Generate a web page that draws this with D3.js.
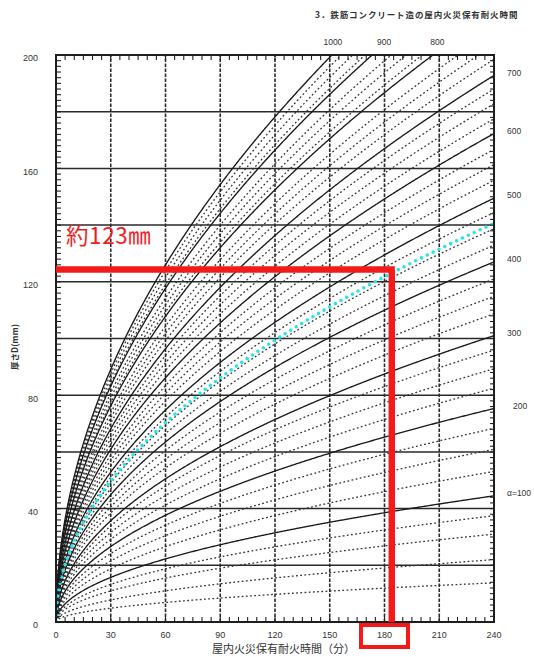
<!DOCTYPE html>
<html><head><meta charset="utf-8">
<script src="https://cdn.jsdelivr.net/npm/d3@7"></script>
<style>body{margin:0;background:#fff;} svg{display:block;}</style>
</head><body>
<svg id="c" width="534" height="657"></svg>
<script>
// ---- data ----
const xTicks = [0,30,60,90,120,150,180,210,240];
const yTicks = [0,40,80,120,160,200];
const solidAlpha = [100,200,300,400,500,600,700,800,900,1000];
const solidD240 = [44.5,75.3,101,127,149.5,172.3,192.8,215.6,235.4,252];
const dashedAlpha = [20,40,60,80,125,150,175,225,250,275,325,350,375,425,450,475,525,550,575,625,650,675,725,750,775,825,850,875,925,950,975];
const dashedD240 = [13.8,22,31,37.5,53.1,60.9,68.3,82.5,89.3,95.9,108.7,114.9,121,132.9,138.7,144.4,155.8,161.3,166.7,177.5,182.8,188,198.5,203.6,208.7,218.7,223.7,228.6,238.1,243,247.8];
const highlightD240 = 140.6;
const rightLabels = ["α=100","200","300","400","500","600","700"];
const topLabels = ["800","900","1000"];
const annotT = 184, annotD = 124.3;
const annotText = "約123㎜";
const boxedTick = 180;
const titleText = "3．鉄筋コンクリート造の屋内火災保有耐火時間";
const yTitle = "厚さD(mm)";
const xTitle = "屋内火災保有耐火時間（分）";

// ---- layout ----
const svg = d3.select("#c");
const x = d3.scaleLinear().domain([0,240]).range([56,494]);
const y = d3.scaleLinear().domain([0,200]).range([622,55]);
const numFont = "'Liberation Sans', Arial, sans-serif";
const jpFont = "'Noto Sans CJK JP', sans-serif";

svg.append("defs").append("clipPath").attr("id","plot")
  .append("rect").attr("x",x(0)).attr("y",y(200)).attr("width",x(240)-x(0)).attr("height",y(0)-y(200));

// grid
const grid = svg.append("g");
grid.selectAll("line.h").data(d3.range(20,200,20)).join("line")
  .attr("x1",x(0)).attr("x2",x(240)).attr("y1",d=>y(d)).attr("y2",d=>y(d))
  .attr("stroke","#2a2a2a").attr("stroke-width",1.5);
grid.selectAll("line.v").data(d3.range(30,240,30)).join("line")
  .attr("y1",y(0)).attr("y2",y(200)).attr("x1",d=>x(d)).attr("x2",d=>x(d))
  .attr("stroke","#2a2a2a").attr("stroke-width",1.6).attr("stroke-dasharray","3.5,1.5");

// curves
const tSamples = d3.range(0,240.01,0.5);
function curvePath(d240){
  const s = d3.scaleSqrt().domain([0,240]).range([0,d240]);
  return d3.line().x(t=>x(t)).y(t=>y(s(t)))(tSamples);
}
const cg = svg.append("g").attr("clip-path","url(#plot)");
cg.selectAll("path.dash").data(dashedD240).join("path")
  .attr("d",curvePath).attr("fill","none").attr("stroke","#333")
  .attr("stroke-width",1.3).attr("stroke-dasharray","1.8,2.4");
cg.selectAll("path.solid").data(solidD240).join("path")
  .attr("d",curvePath).attr("fill","none").attr("stroke","#1a1a1a")
  .attr("stroke-width",1.35);
cg.append("path").attr("d",curvePath(highlightD240)).attr("fill","none")
  .attr("stroke","#27e3ea").attr("stroke-width",3.6).attr("stroke-linecap","round")
  .attr("stroke-dasharray","0,6.5");

// frame
svg.append("rect").attr("x",x(0)).attr("y",y(200)).attr("width",x(240)-x(0)).attr("height",y(0)-y(200))
  .attr("fill","none").attr("stroke","#1e1e1e").attr("stroke-width",2);

// ticks
const tk = svg.append("g").attr("stroke","#222").attr("stroke-width",1.1);
d3.range(2,200,2).forEach(v=>{
  tk.append("line").attr("x1",x(0)).attr("x2",x(0)+5).attr("y1",y(v)).attr("y2",y(v));
  tk.append("line").attr("x1",x(240)).attr("x2",x(240)-4).attr("y1",y(v)).attr("y2",y(v));
});
d3.range(5,240,5).forEach(v=>{
  tk.append("line").attr("x1",x(v)).attr("x2",x(v)).attr("y1",y(200)).attr("y2",y(200)+5);
  tk.append("line").attr("x1",x(v)).attr("x2",x(v)).attr("y1",y(0)).attr("y2",y(0)-5);
});

// axis labels
svg.append("g").selectAll("text").data(yTicks).join("text")
  .attr("x",38).attr("y",d=>y(d)+4).attr("text-anchor","end").attr("dominant-baseline","middle")
  .attr("font-family",numFont).attr("font-size",9).attr("fill","#333").text(d=>d);
svg.append("g").selectAll("text").data(xTicks).join("text")
  .attr("x",d=>x(d)).attr("y",636).attr("text-anchor","middle").attr("dominant-baseline","middle")
  .attr("font-family",numFont).attr("font-size",9).attr("fill","#333").text(d=>d);

// alpha labels
svg.append("g").selectAll("text").data(rightLabels).join("text")
  .attr("x",(d,i)=> i===1 ? 513 : 507).attr("y",(d,i)=>y(solidD240[i])-2).attr("dominant-baseline","middle")
  .attr("font-family",numFont).attr("font-size",8.5).attr("fill","#333").text(d=>d);
const topOffsets = [4.5, 12, 1];
svg.append("g").selectAll("text").data(topLabels).join("text")
  .attr("x",(d,i)=>{const s=d3.scaleSqrt().domain([0,240]).range([0,solidD240[7+i]]); return x(s.invert(200))+topOffsets[i];})
  .attr("y",43).attr("text-anchor","middle").attr("dominant-baseline","middle")
  .attr("font-family",numFont).attr("font-size",8.5).attr("fill","#333").text(d=>d);

// titles
svg.append("text").attr("x",315).attr("y",18).attr("font-family",jpFont).attr("font-size",8.5)
  .attr("font-weight","bold").attr("fill","#333").attr("letter-spacing",0.9).text(titleText);
svg.append("text").attr("transform","translate(18,347) rotate(-90)").attr("text-anchor","middle")
  .attr("font-family",jpFont).attr("font-size",8.5).attr("font-weight","bold").attr("fill","#333").text(yTitle);
svg.append("text").attr("x",212).attr("y",653).attr("font-family",jpFont).attr("font-size",11)
  .attr("fill","#333").text(xTitle);

// red annotation
const red = "#f41a1a";
const ann = svg.append("g");
ann.append("line").attr("x1",x(0)).attr("x2",x(annotT)+3).attr("y1",y(annotD)).attr("y2",y(annotD))
  .attr("stroke",red).attr("stroke-width",6.5);
ann.append("line").attr("x1",x(annotT)).attr("x2",x(annotT)).attr("y1",y(annotD)).attr("y2",y(0))
  .attr("stroke",red).attr("stroke-width",6.5);
ann.append("rect").attr("x",x(boxedTick)-23.5).attr("y",625).attr("width",47).attr("height",22)
  .attr("fill","none").attr("stroke",red).attr("stroke-width",4);
ann.append("text").attr("x",66).attr("y",y(annotD)-26).attr("font-family",jpFont).attr("font-size",22.5)
  .attr("fill",red).attr("letter-spacing",0.6).text(annotText);
</script>
</body></html>
